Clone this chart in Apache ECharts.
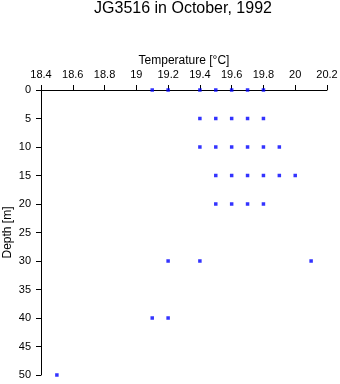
<!DOCTYPE html>
<html>
<head>
<meta charset="utf-8">
<script src="https://cdn.jsdelivr.net/npm/echarts@6/dist/echarts.min.js"></script>
<style>html,body{margin:0;padding:0;background:#fff;}#c{width:340px;height:384px;}</style>
</head>
<body>
<div id="c"></div>
<script>
var titleText = "JG3516 in October, 1992";
var xName = "Temperature [°C]";
var yName = "Depth [m]";
var depths = [0, 5, 10, 15, 20, 30, 40, 50];
var temps0 = [19.1, 19.2, 19.4, 19.5, 19.6, 19.7, 19.8];
var temps5 = [19.4, 19.5, 19.6, 19.7, 19.8];
var temps10 = [19.4, 19.5, 19.6, 19.7, 19.8, 19.9];
var temps15 = [19.5, 19.6, 19.7, 19.8, 19.9, 20.0];
var temps20 = [19.5, 19.6, 19.7, 19.8];
var temps30 = [19.2, 19.4, 20.1];
var temps40 = [19.1, 19.2];
var temps50 = [18.5];
var tempsByDepth = [temps0, temps5, temps10, temps15, temps20, temps30, temps40, temps50];

var points = [];
depths.forEach(function (d, i) {
  tempsByDepth[i].forEach(function (t) { points.push([t, d]); });
});

var chart = echarts.init(document.getElementById('c'), null, {renderer: 'canvas'});
chart.setOption({
  animation: false,
  backgroundColor: '#fff',
  title: {
    text: titleText,
    left: 183,
    textAlign: 'center',
    top: 1,
    padding: 0,
    textStyle: {fontFamily: 'Liberation Sans', fontSize: 16, fontWeight: 'normal', color: '#000'}
  },
  grid: {left: 41, right: 13, top: 90, bottom: 9, containLabel: false, outerBoundsMode: 'none'},
  xAxis: {
    type: 'value',
    position: 'top',
    min: 18.4, max: 20.2, interval: 0.2,
    name: xName,
    nameLocation: 'middle',
    nameGap: 23,
    nameMoveOverlap: false,
    nameTextStyle: {fontFamily: 'Liberation Sans', fontSize: 12, color: '#000'},
    axisLine: {show: true, onZero: false, lineStyle: {color: '#000', width: 1}},
    axisTick: {show: true, inside: false, length: 5, lineStyle: {color: '#000'}},
    axisLabel: {margin: 10, fontFamily: 'Liberation Sans', fontSize: 11, color: '#000',
      formatter: function (v) { return String(Math.round(v * 10) / 10); }},
    splitLine: {show: false}
  },
  yAxis: {
    type: 'value',
    inverse: true,
    min: 0, max: 50, interval: 5,
    name: yName,
    nameLocation: 'middle',
    nameGap: 27,
    nameRotate: 90,
    nameMoveOverlap: false,
    nameTextStyle: {fontFamily: 'Liberation Sans', fontSize: 12, color: '#000'},
    axisLine: {show: true, onZero: false, lineStyle: {color: '#000', width: 1}},
    axisTick: {show: true, inside: false, length: 5, lineStyle: {color: '#000'}},
    axisLabel: {margin: 10, fontFamily: 'Liberation Sans', fontSize: 11, color: '#000'},
    splitLine: {show: false}
  },
  series: [{
    type: 'scatter',
    data: points,
    symbol: 'rect',
    symbolSize: 3.5,
    itemStyle: {color: '#0000ff'},
    clip: false
  }]
});
</script>
</body>
</html>
